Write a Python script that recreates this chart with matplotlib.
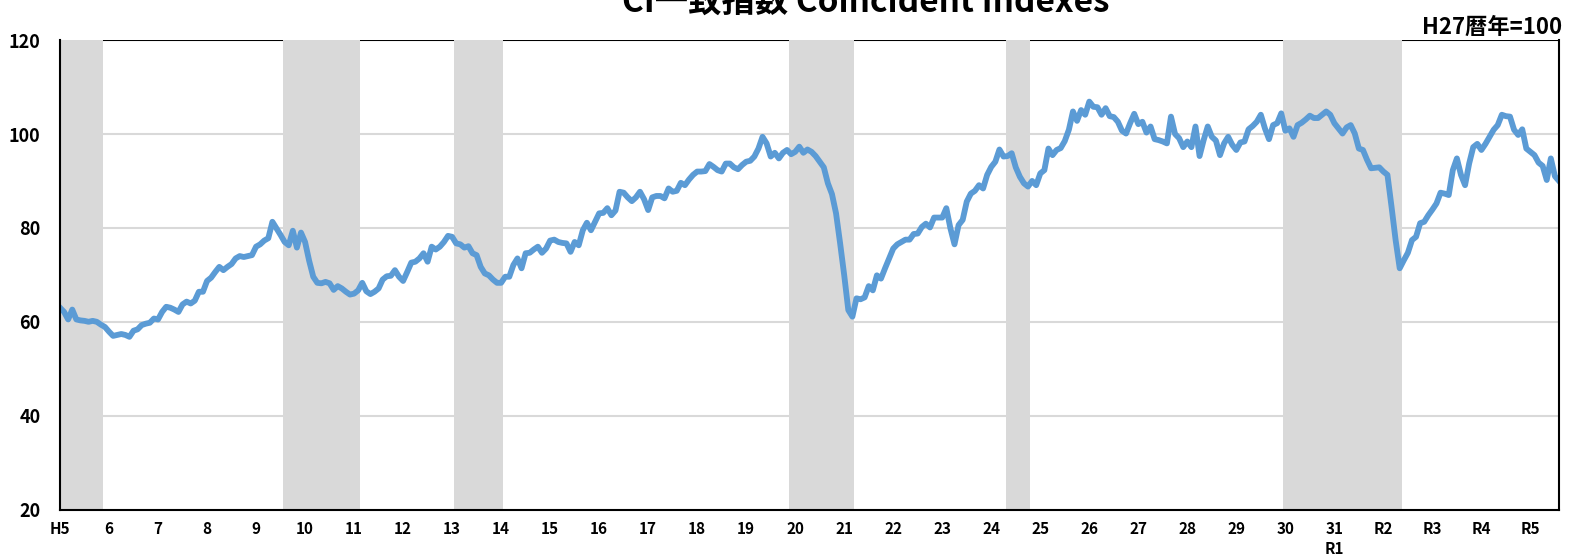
import matplotlib.pyplot as plt
import numpy as np

plt.rcParams['font.family'] = ['Noto Sans CJK JP', 'DejaVu Sans']

# CI coincident index, monthly, 1993-01 .. 2023-08 (one row per calendar year)
ci_values = [
    63.0, 62.1, 60.5, 62.6, 60.5, 60.3, 60.2, 60.0, 60.2, 60.0, 59.4, 58.9,
    57.9, 57.0, 57.2, 57.4, 57.2, 56.8, 58.1, 58.4, 59.3, 59.6, 59.8, 60.7,
    60.5, 62.1, 63.2, 63.0, 62.6, 62.1, 63.7, 64.3, 63.9, 64.5, 66.4, 66.4,
    68.7, 69.4, 70.6, 71.7, 71.0, 71.7, 72.3, 73.5, 74.0, 73.8, 74.0, 74.2,
    76.0, 76.5, 77.3, 77.8, 81.3, 79.9, 78.5, 77.0, 76.3, 79.4, 75.8, 79.0,
    77.0, 73.0, 69.6, 68.3, 68.2, 68.5, 68.2, 66.8, 67.6, 67.1, 66.4, 65.8,
    66.0, 66.7, 68.3, 66.5, 65.9, 66.4, 67.1, 69.0, 69.7, 69.8, 71.0, 69.6,
    68.7, 70.6, 72.6, 72.8, 73.5, 74.6, 72.8, 76.0, 75.4, 76.0, 77.0, 78.3,
    78.1, 76.7, 76.5, 75.8, 76.1, 74.6, 74.2, 71.7, 70.3, 69.9, 69.0, 68.3,
    68.3, 69.6, 69.6, 72.1, 73.5, 71.4, 74.6, 74.7, 75.4, 76.0, 74.7, 75.6,
    77.3, 77.5, 77.0, 76.8, 76.7, 74.9, 77.0, 76.3, 79.5, 81.1, 79.5, 81.3,
    83.1, 83.2, 84.2, 82.7, 83.7, 87.7, 87.5, 86.5, 85.7, 86.5, 87.7, 86.1,
    83.8, 86.5, 86.8, 86.8, 86.3, 88.4, 87.7, 87.9, 89.6, 89.1, 90.3, 91.3,
    92.0, 92.0, 92.1, 93.6, 93.0, 92.3, 92.0, 93.7, 93.7, 92.9, 92.5, 93.4,
    94.1, 94.3, 95.2, 96.9, 99.4, 98.0, 95.2, 96.0, 94.8, 96.0, 96.6, 95.7,
    96.2, 97.3, 96.0, 96.7, 96.2, 95.3, 94.1, 92.9, 89.5, 87.2, 83.1, 76.7,
    69.9, 62.5, 61.1, 65.0, 64.8, 65.2, 67.6, 66.7, 69.9, 69.2, 71.4, 73.5,
    75.6, 76.5, 77.0, 77.5, 77.5, 78.7, 78.8, 80.2, 80.9, 80.1, 82.2, 82.2,
    82.2, 84.2, 79.9, 76.5, 80.6, 81.7, 85.6, 87.3, 87.9, 89.1, 88.4, 91.3,
    93.0, 94.1, 96.7, 95.2, 95.3, 95.9, 92.9, 90.9, 89.5, 88.8, 90.0, 89.1,
    91.6, 92.3, 96.9, 95.5, 96.6, 97.0, 98.5, 100.9, 104.8, 102.8, 105.1, 104.1,
    106.9, 105.8, 105.7, 104.1, 105.5, 103.8, 103.6, 102.6, 100.7, 100.1, 102.3, 104.3,
    102.1, 102.6, 100.3, 101.6, 98.9, 98.7, 98.4, 98.0, 103.7, 100.0, 99.1, 97.2,
    98.4, 97.2, 101.6, 95.3, 98.7, 101.6, 99.4, 98.6, 95.5, 98.0, 99.4, 97.7,
    96.6, 98.2, 98.4, 101.0, 101.7, 102.6, 104.1, 101.2, 98.9, 101.9, 102.3, 104.4,
    100.7, 101.2, 99.4, 101.9, 102.4, 103.1, 103.9, 103.4, 103.4, 104.1, 104.8, 104.1,
    102.3, 101.2, 100.1, 101.4, 101.9, 100.1, 96.9, 96.6, 94.5, 92.7, 92.8, 92.9,
    92.0, 91.3, 84.5, 77.4, 71.4, 73.1, 74.7, 77.4, 78.1, 81.0, 81.3, 82.7,
    83.9, 85.2, 87.5, 87.3, 87.0, 92.3, 94.8, 91.3, 89.1, 93.7, 97.2, 97.9,
    96.6, 97.9, 99.4, 100.9, 101.9, 104.1, 103.8, 103.7, 100.9, 99.8, 101.0, 96.9,
    96.2, 95.5, 93.9, 93.2, 90.2, 94.8, 91.0, 90.0,
]

start_year = 1993
year_labels = ['H5'] + [str(y) for y in range(6, 31)] + ['31\nR1', 'R2', 'R3', 'R4', 'R5']

# shaded periods (first month, last month)
recessions = [
    ((1993, 1), (1993, 11)),
    ((1997, 8), (1999, 2)),
    ((2001, 2), (2002, 1)),
    ((2007, 12), (2009, 3)),
    ((2012, 5), (2012, 10)),
    ((2018, 1), (2020, 5)),
]


def month_index(ym):
    return (ym[0] - start_year) * 12 + ym[1] - 1


x = np.arange(len(ci_values))

fig = plt.figure(figsize=(15.82, 5.55), dpi=100)
ax = fig.add_axes([60 / 1582, 1 - 509.6 / 555, 1499 / 1582, 469.5 / 555])

ax.set_xlim(0, len(ci_values) - 1)
ax.set_ylim(20, 120)

# gridlines
for v in [40, 60, 80, 100]:
    ax.axhline(v, color='#d9d9d9', lw=1.5, zorder=1)
ax.axhline(120, color='black', lw=1.5, zorder=1)

# recession shading
for s, e in recessions:
    ax.axvspan(month_index(s) - 0.5, month_index(e) + 0.5, color='#d9d9d9', lw=0, zorder=2)

ax.plot(x, ci_values, color='#5b9bd5', lw=4.2, solid_joinstyle='round', zorder=3)

for side in ['left', 'right', 'bottom']:
    ax.spines[side].set_color('black')
    ax.spines[side].set_linewidth(1.5)
    ax.spines[side].set_zorder(4)
ax.spines['top'].set_visible(False)

ax.set_yticks([20, 40, 60, 80, 100, 120])
ax.set_yticklabels(['20', '40', '60', '80', '100', '120'], fontsize=13, fontweight='bold')
ax.set_xticks(np.arange(len(year_labels)) * 12)
ax.set_xticklabels(year_labels, fontsize=11, fontweight='bold', linespacing=1.3)
ax.tick_params(axis='y', length=0, pad=14)
ax.tick_params(axis='x', length=0, pad=8)

fig.text(866 / 1582, 1 - 2 / 555, 'CI一致指数 Coincident Indexes', ha='center', va='center',
         fontsize=24, fontweight='bold')
fig.text(1562 / 1582, 1 - 28 / 555, 'H27暦年=100', ha='right', va='center',
         fontsize=16, fontweight='bold')

fig.savefig('out.png', dpi=100)
